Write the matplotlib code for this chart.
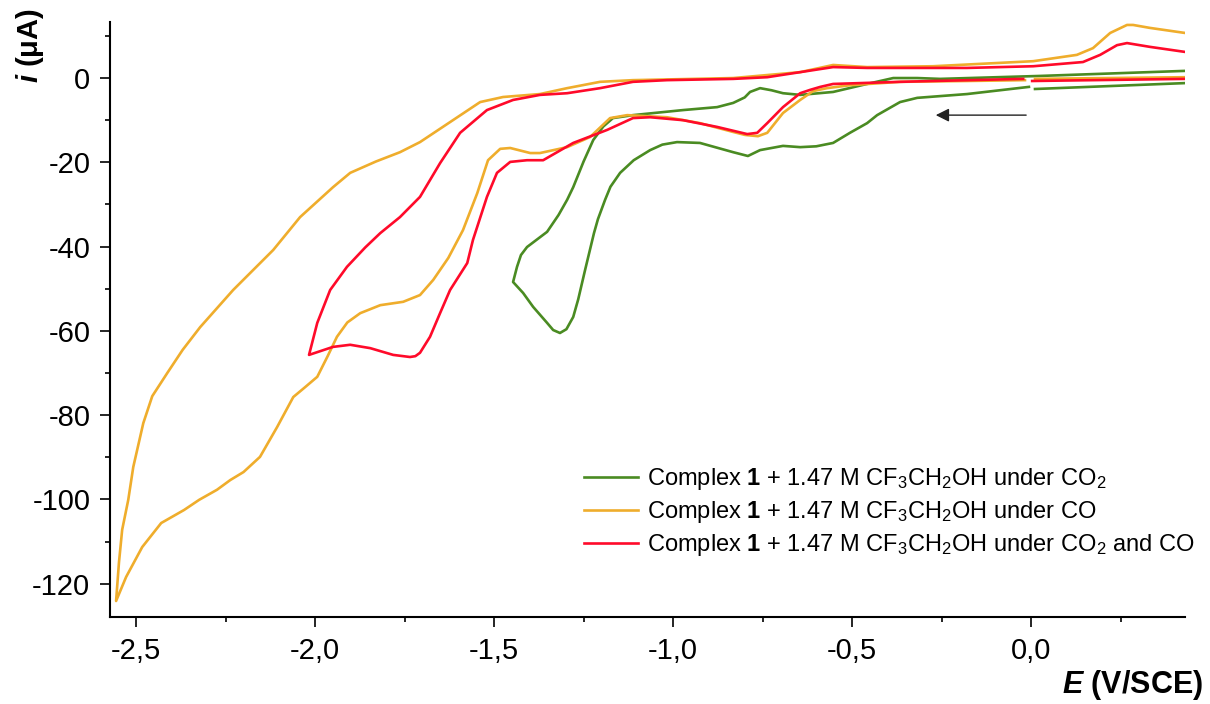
import numpy as np
import matplotlib
matplotlib.use("Agg")
import matplotlib.pyplot as plt
from matplotlib.ticker import MultipleLocator, FuncFormatter

plt.rcParams['font.family'] = ['Liberation Sans', 'DejaVu Sans']
plt.rcParams['mathtext.fontset'] = 'custom'
plt.rcParams['mathtext.rm'] = 'Liberation Sans'
plt.rcParams['mathtext.it'] = 'Liberation Sans:italic'
plt.rcParams['mathtext.bf'] = 'Liberation Sans:bold'
plt.rcParams['mathtext.bfit'] = 'Liberation Sans:italic:bold'
plt.rcParams['axes.unicode_minus'] = False

# CV under CO2: E (V vs SCE), i (uA); nan marks the turn beyond the plotted window
e_co2 = [-0.006, -0.179, -0.318, -0.366, -0.430, -0.458, -0.506, -0.553, -0.600, -0.645, -0.693,
         -0.757, -0.791, -0.832, -0.925, -0.989, -1.030, -1.064, -1.110, -1.148, -1.175, -1.190,
         -1.210, -1.221, -1.246, -1.265, -1.279, -1.298, -1.316, -1.335, -1.352, -1.391, -1.419,
         -1.447,
         -1.436, -1.425, -1.408, -1.380, -1.352, -1.320, -1.296, -1.279, -1.250, -1.223, -1.195,
         -1.168, -1.112, -0.972, -0.877, -0.832, -0.800, -0.785, -0.757, -0.725, -0.693, -0.645,
         -0.553, -0.458, -0.385, -0.318, -0.254, 0.025, 0.430, np.nan, 0.430, 0.011]
i_co2 = [-2.1, -3.8, -4.7, -5.7, -8.8, -10.7, -13.0, -15.4, -16.2, -16.4, -16.1,
         -17.1, -18.5, -17.6, -15.4, -15.2, -15.8, -17.1, -19.5, -22.5, -25.8, -28.9,
         -33.5, -36.8, -45.6, -52.5, -56.7, -59.6, -60.5, -59.8, -58.1, -54.3, -51.0,
         -48.4,
         -44.8, -42.0, -40.1, -38.3, -36.5, -32.5, -28.9, -25.9, -19.8, -14.7, -11.5,
         -9.5, -8.8, -7.6, -6.9, -5.9, -4.6, -3.3, -2.4, -2.9, -3.6, -4.0,
         -3.3, -1.4, 0.0, 0.0, -0.2, 0.5, 1.7, np.nan, -1.2, -2.6]

# CV under CO
e_co = [-0.017, -0.179, -0.366, -0.506, -0.570, -0.609, -0.645, -0.693, -0.737, -0.763,
        -0.799, -0.832, -0.925, -1.017, -1.128, -1.176, -1.232, -1.296, -1.372, -1.399,
        -1.455, -1.483, -1.517, -1.547, -1.587, -1.628, -1.670, -1.707, -1.754, -1.818,
        -1.874, -1.910, -1.939, -1.965, -1.994, -2.030, -2.061, -2.106, -2.154, -2.200, -2.237,
        -2.274, -2.324, -2.366, -2.430, -2.483, -2.528, -2.556,
        -2.548, -2.539, -2.522, -2.508, -2.480, -2.455, -2.413, -2.370, -2.321, -2.229, -2.117,
        -2.042, -1.950, -1.902, -1.830, -1.763, -1.707, -1.615, -1.539, -1.475, -1.372, -1.296,
        -1.204, -1.112, -0.832, -0.645, -0.553, -0.458, -0.274, 0.006, 0.128, 0.173, 0.221,
        0.268, 0.285, 0.332, 0.430, np.nan, 0.430, 0.011]
i_co = [-0.5, -0.7, -0.9, -1.7, -2.4, -3.1, -5.2, -8.3, -13.0, -13.8,
        -13.5, -12.8, -10.7, -9.3, -8.8, -9.5, -14.0, -16.4, -17.8, -17.8,
        -16.6, -16.8, -19.5, -27.3, -36.1, -42.7, -47.9, -51.5, -53.1, -53.9,
        -55.8, -58.0, -61.4, -66.0, -70.9, -73.5, -75.7, -82.8, -89.9, -93.5, -95.4,
        -97.7, -100.1, -102.5, -105.6, -111.3, -118.4, -124.1,
        -115.0, -107.2, -100.1, -92.3, -81.9, -75.5, -70.0, -64.5, -59.1, -50.3, -40.8,
        -33.0, -25.9, -22.5, -19.8, -17.6, -15.2, -10.0, -5.7, -4.5, -3.8, -2.4,
        -0.9, -0.5, 0.0, 1.4, 3.1, 2.6, 2.8, 4.0, 5.5, 7.1, 10.7,
        12.6, 12.6, 11.9, 10.7, np.nan, 0.2, -0.2]

# CV under CO2 and CO
e_mix = [-0.022, -0.274, -0.366, -0.553, -0.589, -0.617, -0.645, -0.693, -0.737, -0.765,
         -0.793, -0.877, -0.972, -1.064, -1.112, -1.184, -1.279, -1.363, -1.408, -1.455,
         -1.492, -1.520, -1.559, -1.575, -1.623, -1.651, -1.679, -1.707, -1.720, -1.735, -1.782,
         -1.846, -1.902, -1.950, -2.017,
         -1.994, -1.958, -1.911, -1.860, -1.818, -1.763, -1.707, -1.651, -1.595, -1.520, -1.447,
         -1.372, -1.296, -1.204, -1.112, -1.017, -0.832, -0.737, -0.645, -0.553, -0.458,
         -0.179, 0.006, 0.145, 0.193, 0.240, 0.268, 0.332, 0.430, np.nan, 0.430, 0.003]
i_mix = [-0.2, -0.7, -0.9, -1.4, -2.1, -2.8, -3.6, -6.9, -10.7, -13.0,
         -13.3, -11.6, -10.0, -9.3, -9.5, -12.3, -15.4, -19.5, -19.5, -19.9,
         -22.5, -28.2, -38.4, -43.9, -50.3, -55.8, -61.4, -65.2, -66.0, -66.2, -65.7,
         -64.1, -63.3, -63.8, -65.7,
         -58.1, -50.3, -44.8, -40.2, -36.8, -33.0, -28.2, -20.2, -13.0, -7.6, -5.2,
         -4.0, -3.6, -2.4, -0.9, -0.5, -0.2, 0.2, 1.4, 2.6, 2.4,
         2.4, 2.8, 3.8, 5.5, 7.8, 8.3, 7.4, 6.2, np.nan, -0.2, -0.7]

labels = [r'Complex $\mathbf{1}$ + 1.47 M CF$_3$CH$_2$OH under CO$_2$',
          r'Complex $\mathbf{1}$ + 1.47 M CF$_3$CH$_2$OH under CO',
          r'Complex $\mathbf{1}$ + 1.47 M CF$_3$CH$_2$OH under CO$_2$ and CO']
colors = ['#4a8b22', '#efad2c', '#ff0a2a']

fig = plt.figure(figsize=(12.1, 7.04), dpi=100)
ax = fig.add_axes([110 / 1210, 1 - 617 / 704, 1075 / 1210, 595 / 704])

for e, i, lab, c in zip([e_co2, e_co, e_mix], [i_co2, i_co, i_mix], labels, colors):
    ax.plot(e, i, color=c, lw=1.9, label=lab, solid_joinstyle='round')

ax.annotate('', xy=(-0.274, -8.8), xytext=(-0.006, -8.8),
            arrowprops=dict(arrowstyle='-|>', color='#222222', lw=1.0, mutation_scale=20))

ax.set_xlim(-2.573, 0.430)
ax.set_ylim(-127.9, 13.3)
for s in ['top', 'right']:
    ax.spines[s].set_visible(False)
for s in ['left', 'bottom']:
    ax.spines[s].set_linewidth(1.5)

ax.xaxis.set_major_locator(MultipleLocator(0.5))
ax.xaxis.set_minor_locator(MultipleLocator(0.25))
ax.yaxis.set_major_locator(MultipleLocator(20))
ax.yaxis.set_minor_locator(MultipleLocator(10))
ax.xaxis.set_major_formatter(FuncFormatter(lambda v, p: f'{v:.1f}'.replace('.', ',')))
ax.yaxis.set_major_formatter(FuncFormatter(lambda v, p: f'{v:.0f}'))
ax.tick_params(which='major', direction='out', length=7.2, width=1.2, labelsize=21, pad=7)
ax.tick_params(which='minor', direction='out', length=3.6, width=1.2)

ax.legend(loc='upper left', bbox_to_anchor=(584 / 1210, 1 - 466 / 704),
          bbox_transform=fig.transFigure, frameon=False, fontsize=17,
          handlelength=2.3, handletextpad=0.35, labelspacing=0.3,
          borderpad=0, borderaxespad=0)

fig.text(30 / 1210, 1 - 46 / 704, r'$\mathbfit{i}$ (μA)', rotation=90, ha='center', va='center',
         fontsize=21, fontweight='bold')
fig.text(1203 / 1210, 1 - 685 / 704, r'$\mathbfit{E}$ (V/SCE)', ha='right', va='center',
         fontsize=22, fontweight='bold')

fig.savefig('out.png', dpi=100)
